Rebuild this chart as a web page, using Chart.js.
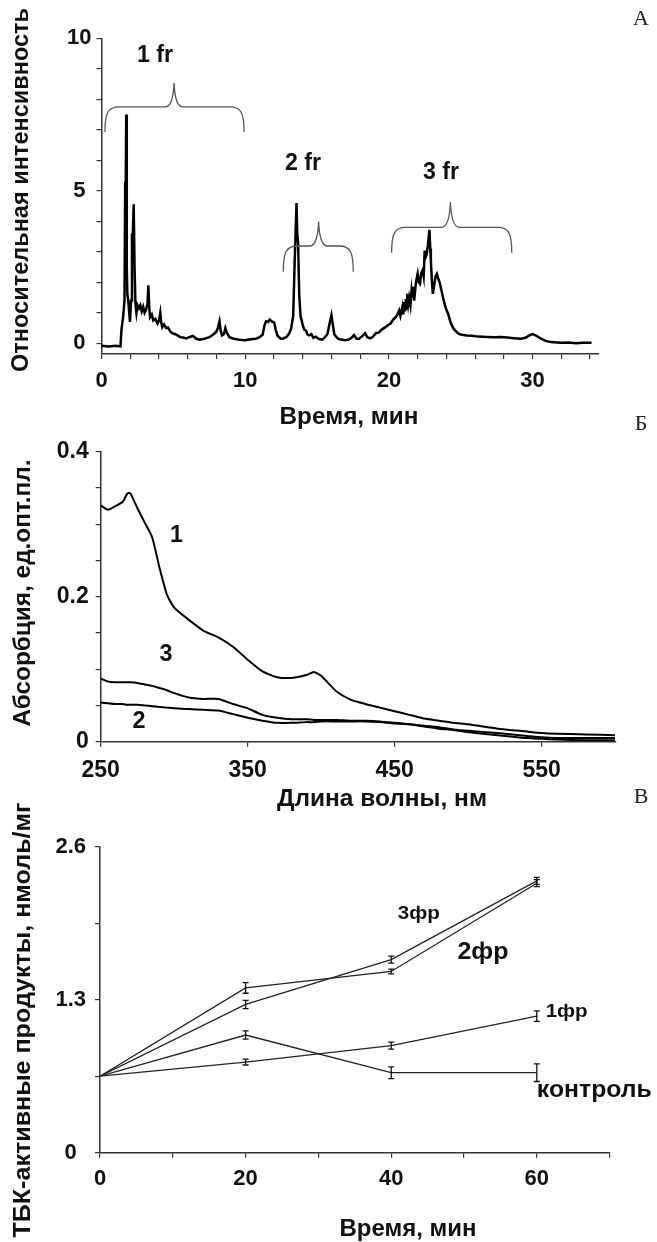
<!DOCTYPE html>
<html>
<head>
<meta charset="utf-8">
<script src="https://cdn.jsdelivr.net/npm/chart.js@4.4.0/dist/chart.umd.min.js"></script>
<style>
body { margin: 0; background: #fff; }
#wrap { position: relative; width: 657px; height: 1242px; }
canvas { position: absolute; left: 0; }
#overlay { pointer-events: none; }
</style>
</head>
<body>
<div id="wrap">
<canvas id="chartA" width="657" height="430" style="top:0"></canvas>
<canvas id="chartB" width="657" height="385" style="top:430px"></canvas>
<canvas id="chartC" width="657" height="427" style="top:815px"></canvas>
<canvas id="overlay" width="657" height="1242" style="top:0"></canvas>
</div>
<script>
'use strict';

// А: хроматограмма
var timeA = [0, 0.5, 1.0, 1.32, 1.39, 1.5, 1.6, 1.65, 1.68, 1.72, 1.76, 1.8, 1.86, 1.92, 1.98,
  2.06, 2.12, 2.16, 2.24, 2.3, 2.36, 2.43, 2.5, 2.6, 2.7, 2.8, 2.9, 3.0, 3.1, 3.2, 3.26, 3.32, 3.38,
  3.5, 3.6, 3.75, 3.9, 4.0, 4.09, 4.15, 4.23, 4.35, 4.5, 4.62, 4.8, 4.97, 5.15, 5.32, 5.5, 5.66,
  5.9, 6.1, 6.36, 6.6, 6.82, 7.1, 7.3, 7.51, 7.75, 7.98, 8.1, 8.21, 8.3, 8.39, 8.52, 8.62, 8.72,
  8.9, 9.2, 9.6, 10.0, 10.4, 10.75, 11.0, 11.21, 11.35, 11.45, 11.6, 11.7, 11.86, 12.02, 12.12,
  12.25, 12.45, 12.6, 12.85, 13.06, 13.2, 13.34, 13.45, 13.5, 13.57, 13.62, 13.68, 13.76, 13.85,
  13.99, 14.1, 14.22, 14.35, 14.45, 14.6, 14.75, 14.91, 15.1, 15.38, 15.55, 15.72, 15.85, 16.0,
  16.1, 16.2, 16.35, 16.5, 16.76, 17.0, 17.23, 17.4, 17.57, 17.75, 17.92, 18.1, 18.35, 18.5, 18.7,
  18.9, 19.1, 19.29, 19.5, 19.76, 19.95, 20.12, 20.3, 20.47, 20.6, 20.71, 20.8, 20.94, 21.0, 21.06,
  21.12, 21.18, 21.24, 21.29, 21.35, 21.41, 21.5, 21.58, 21.65, 21.7, 21.76, 21.88, 22.0, 22.08,
  22.16, 22.25, 22.35, 22.42, 22.49, 22.55, 22.62, 22.71, 22.82, 22.88, 22.92, 23.0, 23.06, 23.15,
  23.25, 23.34, 23.45, 23.53, 23.65, 23.76, 23.9, 24.0, 24.12, 24.25, 24.35, 24.5, 24.71, 24.9,
  25.1, 25.41, 25.8, 26.2, 26.82, 27.3, 27.8, 28.24, 28.7, 29.18, 29.5, 29.75, 30.0, 30.25, 30.59,
  30.9, 31.29, 31.7, 32.0, 32.5, 33.0, 33.5, 34.1];
var intensityA = [-0.08, -0.1, -0.08, -0.1, 0.45, 0.85, 1.4, 5.3, 4.8, 7.5, 2.5, 1.6, 1.4, 1.05, 0.7,
  1.4, 3.6, 3.3, 4.56, 2.5, 1.3, 1.0, 1.25, 1.15, 1.25, 1.05, 1.2, 1.0, 1.1, 1.3, 1.9, 1.2, 0.86,
  0.95, 0.75, 0.8, 0.65, 0.75, 1.0, 0.7, 0.53, 0.62, 0.5, 0.52, 0.38, 0.32, 0.3, 0.25, 0.2, 0.19,
  0.16, 0.2, 0.24, 0.15, 0.12, 0.14, 0.17, 0.2, 0.28, 0.37, 0.5, 0.72, 0.4, 0.26, 0.3, 0.5, 0.35,
  0.2, 0.15, 0.12, 0.1, 0.13, 0.15, 0.2, 0.28, 0.6, 0.72, 0.7, 0.78, 0.72, 0.68, 0.45,
  0.25, 0.16, 0.15, 0.2, 0.32, 0.5, 0.9, 2.8, 3.5, 4.6, 3.6, 3.3, 1.6, 0.9,
  0.63, 0.45, 0.42, 0.28, 0.26, 0.3, 0.18, 0.22, 0.15, 0.12, 0.2, 0.3, 0.6, 0.92,
  0.6, 0.3, 0.2, 0.14, 0.12, 0.1, 0.13, 0.18, 0.27, 0.15, 0.15, 0.22, 0.33, 0.2, 0.16,
  0.22, 0.34, 0.35, 0.45, 0.53, 0.6, 0.65, 0.78, 0.86, 0.95, 1.08, 0.9, 1.2, 0.95, 1.35,
  1.05, 1.45, 1.1, 1.62, 1.3, 1.5, 1.25, 1.75, 1.5, 1.85, 1.4, 2.0, 2.28, 2.0,
  1.95, 2.3, 2.4, 2.2, 3.04, 2.82, 2.9, 3.2, 3.72, 3.1, 2.7, 2.0, 1.62, 1.9,
  2.2, 2.28, 2.1, 2.0, 1.75, 1.51, 1.25, 1.1, 0.97, 0.75, 0.62, 0.48, 0.37, 0.3,
  0.28, 0.26, 0.25, 0.22, 0.21, 0.2, 0.21, 0.19, 0.17, 0.15, 0.18, 0.25, 0.3, 0.25, 0.15,
  0.08, 0.04, 0.03, 0.02, 0.03, 0.0, 0.02, 0.02];
var ticksAx = [0, 2, 4, 6, 8, 10, 12, 14, 16, 18, 20, 22, 24, 26, 28, 30, 32, 34];
var labelsAx = [0, 10, 20, 30];
var ticksAy = [0, 1, 2, 3, 4, 5, 6, 7, 8, 9, 10];
var labelsAy = [0, 5, 10];
var fractionsA = ['1 fr', '2 fr', '3 fr'];

// Б: спектры поглощения
var wavelengthB = [250, 255, 260, 265, 268, 270, 275, 280, 285, 290, 295, 300, 310, 320, 330, 340, 350,
  360, 370, 380, 390, 395, 400, 410, 420, 430, 440, 450, 460, 470, 480, 490, 500, 520, 540, 550, 560, 580, 600];
var absorb1 = [0.326, 0.320, 0.325, 0.331, 0.342, 0.343, 0.322, 0.302, 0.282, 0.240, 0.203, 0.185, 0.168,
  0.153, 0.144, 0.131, 0.113, 0.097, 0.089, 0.088, 0.092, 0.096, 0.091, 0.070, 0.058, 0.052, 0.047, 0.042,
  0.037, 0.032, 0.029, 0.026, 0.024, 0.018, 0.014, 0.012, 0.011, 0.010, 0.009];
var absorb2 = [0.054, 0.053, 0.052, 0.052, 0.051, 0.051, 0.051, 0.050, 0.049, 0.048, 0.047, 0.046, 0.045,
  0.044, 0.043, 0.038, 0.033, 0.029, 0.026, 0.026, 0.027, 0.027, 0.028, 0.028, 0.028, 0.028, 0.027, 0.025,
  0.024, 0.021, 0.018, 0.016, 0.013, 0.009, 0.005, 0.004, 0.003, 0.002, 0.002];
var absorb3 = [0.087, 0.083, 0.082, 0.082, 0.082, 0.082, 0.081, 0.079, 0.077, 0.074, 0.071, 0.067, 0.061,
  0.059, 0.059, 0.052, 0.046, 0.037, 0.033, 0.031, 0.031, 0.030, 0.030, 0.030, 0.029, 0.029, 0.028, 0.026,
  0.024, 0.022, 0.020, 0.017, 0.015, 0.012, 0.008, 0.006, 0.005, 0.005, 0.005];
var ticksBx = [250, 350, 450, 550];
var labelsBx = [250, 350, 450, 550];
var ticksBy = [0, 0.05, 0.1, 0.15, 0.2, 0.25, 0.3, 0.35, 0.4];
var labelsBy = [0, 0.2, 0.4];

// В: ТБК-активные продукты
var timeC = [0, 20, 40, 60];
var fr3C = [0.65, 1.26, 1.64, 2.31];
var fr3Err = [0, 0.035, 0.03, 0.03];
var fr2C = [0.65, 1.40, 1.54, 2.29];
var fr2Err = [0, 0.045, 0.02, 0.03];
var fr1C = [0.65, 0.77, 0.91, 1.16];
var fr1Err = [0, 0.025, 0.03, 0.045];
var controlC = [0.65, 1.00, 0.68, 0.68];
var controlErr = [0, 0.035, 0.05, 0.075];
var ticksCx = [0, 10, 20, 30, 40, 50, 60, 70];
var labelsCx = [0, 20, 40, 60];
var ticksCy = [0, 0.65, 1.3, 1.95, 2.6];
var labelsCy = [0, 1.3, 2.6];

var FONT = "'Liberation Sans', Arial, sans-serif";
var AXIS = '#333';

function text(ctx, str, x, y, size, opt) {
    opt = opt || {};
    ctx.save();
    ctx.font = (opt.weight || 'bold') + ' ' + size + 'px ' + (opt.family || FONT);
    ctx.fillStyle = opt.color || '#111';
    ctx.textAlign = 'center';
    ctx.textBaseline = 'middle';
    ctx.translate(x, y);
    if (opt.rotate) ctx.rotate(-Math.PI / 2);
    if (opt.width) {
        var w = ctx.measureText(str).width;
        ctx.scale(opt.width / w, 1);
    }
    ctx.fillText(str, 0, 0);
    ctx.restore();
}

function axis(min, max, tickVals, labels, o) {
    return {
        type: 'linear',
        min: min,
        max: max,
        afterBuildTicks: function(s) {
            s.ticks = tickVals.map(function(v) { return { value: v }; });
        },
        afterFit: function(s) {
            if (o.width) s.width = o.width;
            if (o.height) s.height = o.height;
        },
        ticks: {
            autoSkip: false,
            maxRotation: 0,
            padding: o.pad,
            crossAlign: o.cross || 'near',
            color: '#111',
            font: { family: FONT, size: o.size || 22, weight: 'bold' },
            callback: function(v) {
                return labels.indexOf(v) >= 0 ? String(v) : '';
            }
        },
        grid: { drawOnChartArea: false, drawTicks: true, tickLength: 5, color: AXIS, lineWidth: 1.2 },
        border: { display: true, color: AXIS, width: 1.5 }
    };
}

function xy(xs, ys) {
    return xs.map(function(x, i) { return { x: x, y: ys[i] }; });
}

Chart.defaults.animation = false;
Chart.defaults.plugins.legend.display = false;
Chart.defaults.plugins.tooltip.enabled = false;

// скобки фракций
var bracesA = [
    [0.24, 9.92, 5.05, 6.93, 7.75, 8.53],
    [12.65, 17.52, 15.11, 2.35, 3.19, 3.99],
    [20.19, 28.55, 24.28, 2.97, 3.8, 4.63]
];
var fracPosA = [[3.72, 9.45], [14.02, 5.91], [23.63, 5.62]];

var decorA = {
    id: 'decorA',
    afterDraw: function(chart) {
        var ctx = chart.ctx, xs = chart.scales.x, ys = chart.scales.y;
        ctx.save();
        ctx.strokeStyle = '#555';
        ctx.lineWidth = 1.3;
        bracesA.forEach(function(b) {
            var x1 = xs.getPixelForValue(b[0]), x2 = xs.getPixelForValue(b[1]), xm = xs.getPixelForValue(b[2]);
            var yE = ys.getPixelForValue(b[3]), yB = ys.getPixelForValue(b[4]), yT = ys.getPixelForValue(b[5]);
            ctx.beginPath();
            ctx.moveTo(x1, yE);
            ctx.bezierCurveTo(x1, yB + 6, x1 + 3, yB, x1 + 14, yB);
            ctx.lineTo(xm - 9, yB);
            ctx.quadraticCurveTo(xm - 1, yB, xm, yT);
            ctx.quadraticCurveTo(xm + 1, yB, xm + 9, yB);
            ctx.lineTo(x2 - 14, yB);
            ctx.bezierCurveTo(x2 - 3, yB, x2, yB + 6, x2, yE);
            ctx.stroke();
        });
        ctx.restore();
        fractionsA.forEach(function(t, i) {
            text(ctx, t, xs.getPixelForValue(fracPosA[i][0]), ys.getPixelForValue(fracPosA[i][1]), 24, { width: 36 });
        });
    }
};

new Chart(document.getElementById('chartA'), {
    type: 'line',
    data: {
        datasets: [{
            data: xy(timeA, intensityA),
            borderColor: '#000',
            borderWidth: 2.5,
            pointRadius: 0,
            tension: 0
        }]
    },
    options: {
        responsive: false,
        devicePixelRatio: 1,
        layout: { padding: { left: 0, right: 58.3, top: 38.3, bottom: 0 } },
        scales: {
            x: axis(0, 34.6, ticksAx, labelsAx, { height: 76, pad: 9 }),
            y: axis(-0.35, 10, ticksAy, labelsAy, { width: 101.5, pad: 5, cross: 'center' })
        }
    },
    plugins: [decorA]
});

var curveLabelsB = [['1', 301.6, 0.285], ['3', 294.4, 0.12], ['2', 276, 0.028]];
var decorB = {
    id: 'decorB',
    afterDraw: function(chart) {
        var ctx = chart.ctx, xs = chart.scales.x, ys = chart.scales.y;
        curveLabelsB.forEach(function(c) {
            text(ctx, c[0], xs.getPixelForValue(c[1]), ys.getPixelForValue(c[2]), 24, { width: 13 });
        });
    }
};

function lineB(values) {
    return { data: xy(wavelengthB, values), borderColor: '#000', borderWidth: 2, pointRadius: 0, tension: 0.2 };
}

new Chart(document.getElementById('chartB'), {
    type: 'line',
    data: { datasets: [lineB(absorb1), lineB(absorb2), lineB(absorb3)] },
    options: {
        responsive: false,
        devicePixelRatio: 1,
        layout: { padding: { left: 0, right: 41.8, top: 21.7, bottom: 0 } },
        scales: {
            x: axis(250, 600, ticksBx, labelsBx, { height: 73.3, pad: 10, size: 23 }),
            y: axis(0, 0.4, ticksBy, labelsBy, { width: 100.7, pad: 7, size: 23 })
        }
    },
    plugins: [decorB]
});

var seriesLabelsC = [['3фр', 43.8, 2.03, 19, 42], ['2фр', 52.6, 1.70, 24, 51], ['1фр', 64.1, 1.20, 19, 42], ['контроль', 67.9, 0.53, 24, 115]];
var decorC = {
    id: 'decorC',
    afterDraw: function(chart) {
        var ctx = chart.ctx, xs = chart.scales.x, ys = chart.scales.y;
        ctx.save();
        ctx.strokeStyle = '#111';
        ctx.lineWidth = 1.3;
        chart.data.datasets.forEach(function(ds) {
            ds.data.forEach(function(p, i) {
                var e = ds.errors[i];
                if (!e) return;
                var x = xs.getPixelForValue(p.x);
                var y1 = ys.getPixelForValue(p.y - e), y2 = ys.getPixelForValue(p.y + e);
                ctx.beginPath();
                ctx.moveTo(x, y1); ctx.lineTo(x, y2);
                ctx.moveTo(x - 3, y1); ctx.lineTo(x + 3, y1);
                ctx.moveTo(x - 3, y2); ctx.lineTo(x + 3, y2);
                ctx.stroke();
            });
        });
        ctx.restore();
        seriesLabelsC.forEach(function(s) {
            text(ctx, s[0], xs.getPixelForValue(s[1]), ys.getPixelForValue(s[2]), s[3], { width: s[4] });
        });
    }
};

function lineC(values, errors) {
    return { data: xy(timeC, values), errors: errors, borderColor: '#222', borderWidth: 1.3, pointRadius: 0, tension: 0 };
}

new Chart(document.getElementById('chartC'), {
    type: 'line',
    data: { datasets: [lineC(fr3C, fr3Err), lineC(fr2C, fr2Err), lineC(fr1C, fr1Err), lineC(controlC, controlErr)] },
    options: {
        responsive: false,
        devicePixelRatio: 1,
        layout: { padding: { left: 0, right: 47.4, top: 31.7, bottom: 0 } },
        scales: {
            x: axis(0, 70, ticksCx, labelsCx, { height: 89.3, pad: 8 }),
            y: axis(0, 2.6, ticksCy, labelsCy, { width: 100, pad: 9, cross: 'center' })
        }
    },
    plugins: [decorC]
});

// подписи осей и панелей
var ov = document.getElementById('overlay').getContext('2d');
text(ov, 'Относительная интенсивность', 22, 190, 23, { rotate: true, width: 364 });
text(ov, 'Время, мин', 349, 418, 23, { width: 139 });
text(ov, 'Абсорбция, ед.опт.пл.', 24, 593, 23, { rotate: true, width: 267 });
text(ov, 'Длина волны, нм', 382, 800, 23, { width: 210 });
text(ov, 'ТБК-активные продукты, нмоль/мг', 24, 1020, 23, { rotate: true, width: 435 });
text(ov, 'Время, мин', 408, 1230, 23, { width: 137 });
text(ov, 'А', 641, 19, 22, { weight: 'normal', family: "'Liberation Serif', serif", color: '#222' });
text(ov, 'Б', 641, 424, 22, { weight: 'normal', family: "'Liberation Serif', serif", color: '#222' });
text(ov, 'В', 641, 797, 22, { weight: 'normal', family: "'Liberation Serif', serif", color: '#222' });
</script>
</body>
</html>
